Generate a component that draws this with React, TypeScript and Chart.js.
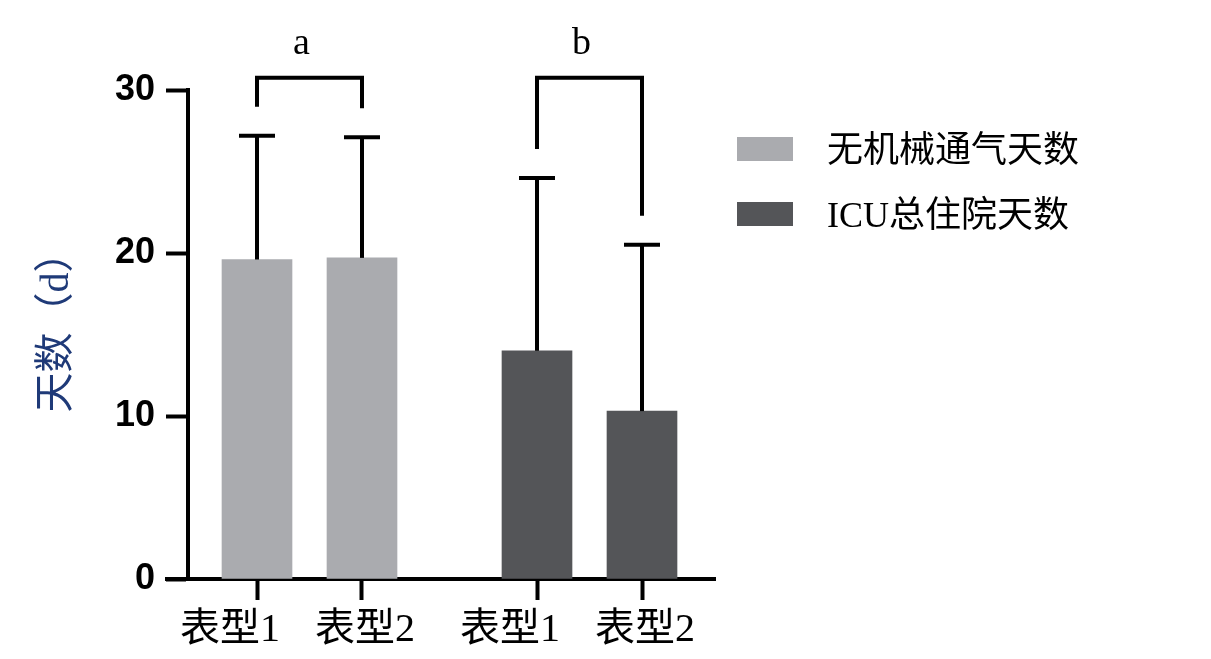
import React, { useEffect, useRef } from 'react';
import { Chart, registerables } from 'chart.js';

Chart.register(...registerables);

// ---- data ----
const seriesNames = ['无机械通气天数', 'ICU总住院天数'];
const categoryLabels = ['表型1', '表型2'];
const meanMV = [19.6, 19.7];
const sdMV = [7.6, 7.4];
const meanICU = [14.0, 10.3];
const sdICU = [10.6, 10.2];
const yTickValues = [0, 10, 20, 30];
const bracketLabels = ['a', 'b'];
const yTitle = '天数（d）';

// ---- styles / layout ----
const colors = ['#aaabaf', '#545558'];
const groupStride = 175 / 105 + 1; // distance between the first bars of the two groups, in slots
const slotPos = (g: number, i: number) => 1 + g * groupStride + i;
const labelShift = [-27, 3]; // horizontal nudge of the tick label text per category (as in the source figure)
const CJK = '"Liberation Serif", "Noto Sans CJK SC", serif';

export default function App() {
  const ref = useRef<HTMLCanvasElement | null>(null);

  useEffect(() => {
    const canvas = ref.current;
    if (!canvas) return;

    const means = [meanMV, meanICU];
    const sds = [sdMV, sdICU];
    const positions: number[] = [];
    const tickLabels: string[] = [];
    const tickShift: number[] = [];
    means.forEach((_, g) => categoryLabels.forEach((lab, i) => {
      positions.push(slotPos(g, i));
      tickLabels.push(lab);
      tickShift.push(labelShift[i]);
    }));

    const datasets = means.map((m, g) => ({
      label: seriesNames[g],
      data: m.map((v, i) => ({ x: slotPos(g, i), y: v })),
      backgroundColor: colors[g],
      borderWidth: 0,
      barThickness: 70,
      grouped: false,
    }));

    const decor = {
      id: 'decor',
      afterDraw(chart: any) {
        const ctx = chart.ctx;
        const xs = chart.scales.x;
        const ys = chart.scales.y;
        const area = chart.chartArea;
        ctx.save();
        ctx.strokeStyle = '#000';
        ctx.lineWidth = 4;
        ctx.lineCap = 'butt';
        // x-axis extension to the left of the y axis
        ctx.beginPath();
        ctx.moveTo(area.left - 23, ys.getPixelForValue(0));
        ctx.lineTo(area.left, ys.getPixelForValue(0));
        ctx.stroke();

        // x tick labels (from the scale's ticks)
        ctx.fillStyle = '#000';
        ctx.font = '40px ' + CJK;
        ctx.textAlign = 'center';
        ctx.textBaseline = 'middle';
        xs.ticks.forEach((t: any, idx: number) => {
          const px = xs.getPixelForValue(t.value);
          ctx.fillText(tickLabels[idx], px + tickShift[idx], area.bottom + 51);
        });

        // y title
        ctx.save();
        ctx.translate(57, (area.top + area.bottom) / 2 - 12);
        ctx.rotate(-Math.PI / 2);
        ctx.fillStyle = '#1f3a78';
        ctx.font = '40px ' + CJK;
        ctx.textAlign = 'center';
        ctx.textBaseline = 'middle';
        ctx.fillText(yTitle, 0, 0);
        ctx.restore();

        // error bars (mean + SD, upper only)
        const errTops: number[][] = [];
        means.forEach((m, g) => {
          errTops.push([]);
          m.forEach((v, i) => {
            const x = xs.getPixelForValue(slotPos(g, i));
            const yTop = ys.getPixelForValue(v);
            const yErr = ys.getPixelForValue(v + sds[g][i]);
            errTops[g].push(yErr);
            ctx.beginPath();
            ctx.moveTo(x, yTop);
            ctx.lineTo(x, yErr);
            ctx.stroke();
            ctx.beginPath();
            ctx.moveTo(x - 18, yErr);
            ctx.lineTo(x + 18, yErr);
            ctx.stroke();
          });
        });

        // significance brackets
        const topY = ys.getPixelForValue(30.75);
        bracketLabels.forEach((lab, g) => {
          const x1 = xs.getPixelForValue(slotPos(g, 0));
          const x2 = xs.getPixelForValue(slotPos(g, 1));
          const l1 = errTops[g][0] - 29;
          const l2 = errTops[g][1] - 29;
          ctx.beginPath();
          ctx.moveTo(x1, l1);
          ctx.lineTo(x1, topY);
          ctx.lineTo(x2, topY);
          ctx.lineTo(x2, l2);
          ctx.stroke();
          ctx.fillStyle = '#000';
          ctx.font = '38px "Liberation Serif", serif';
          ctx.textAlign = 'center';
          ctx.textBaseline = 'middle';
          ctx.fillText(lab, (x1 + x2) / 2 - 8, topY - 34);
        });

        // legend
        chart.data.datasets.forEach((ds: any, g: number) => {
          const y = 149 + g * 65;
          ctx.fillStyle = ds.backgroundColor;
          ctx.fillRect(737, y - 12, 56, 24);
          ctx.fillStyle = '#000';
          ctx.font = '36px ' + CJK;
          ctx.textAlign = 'left';
          ctx.textBaseline = 'middle';
          ctx.fillText(ds.label, 827, y + 4);
        });
        ctx.restore();
      },
    };

    const chart = new Chart(canvas, {
      type: 'bar',
      data: { datasets } as any,
      options: {
        responsive: false,
        animation: false,
        layout: { padding: { top: 90, right: 496, left: 0, bottom: 0 } },
        plugins: { legend: { display: false }, tooltip: { enabled: false } },
        scales: {
          x: {
            type: 'linear',
            z: 1,
            offset: false,
            min: 1 - 69 / 105,
            max: slotPos(1, 1) + 73 / 105,
            afterFit: (s: any) => { s.height = 80; },
            afterBuildTicks: (s: any) => { s.ticks = positions.map((v) => ({ value: v })); },
            grid: { display: true, offset: false, drawOnChartArea: false, drawTicks: true, tickLength: 21, tickWidth: 4, tickColor: '#000' },
            border: { display: true, color: '#000', width: 4 },
            ticks: {
              autoSkip: false,
              maxRotation: 0,
              color: 'rgba(0,0,0,0)',
              font: { size: 40, family: CJK },
              callback: (_v: any, idx: number) => tickLabels[idx],
            },
          },
          y: {
            z: 1,
            min: 0,
            max: 30,
            afterFit: (s: any) => { s.width = 188; },
            afterBuildTicks: (s: any) => { s.ticks = yTickValues.map((v) => ({ value: v })); },
            grid: { display: true, drawOnChartArea: false, drawTicks: true, tickLength: 22, tickWidth: 4, tickColor: '#000' },
            border: { display: true, color: '#000', width: 4 },
            ticks: {
              padding: 11,
              color: '#000',
              font: { size: 36, weight: 'bold', family: '"Liberation Sans", Arial, sans-serif' },
            },
            title: { display: false, text: yTitle },
          },
        },
      } as any,
      plugins: [decor],
    });
    return () => chart.destroy();
  }, []);

  return (
    <div style={{ position: 'fixed', left: 0, top: 0, width: 1211, height: 659, background: '#fff' }}>
      <canvas ref={ref} width={1211} height={659} style={{ width: 1211, height: 659, display: 'block' }} />
    </div>
  );
}
